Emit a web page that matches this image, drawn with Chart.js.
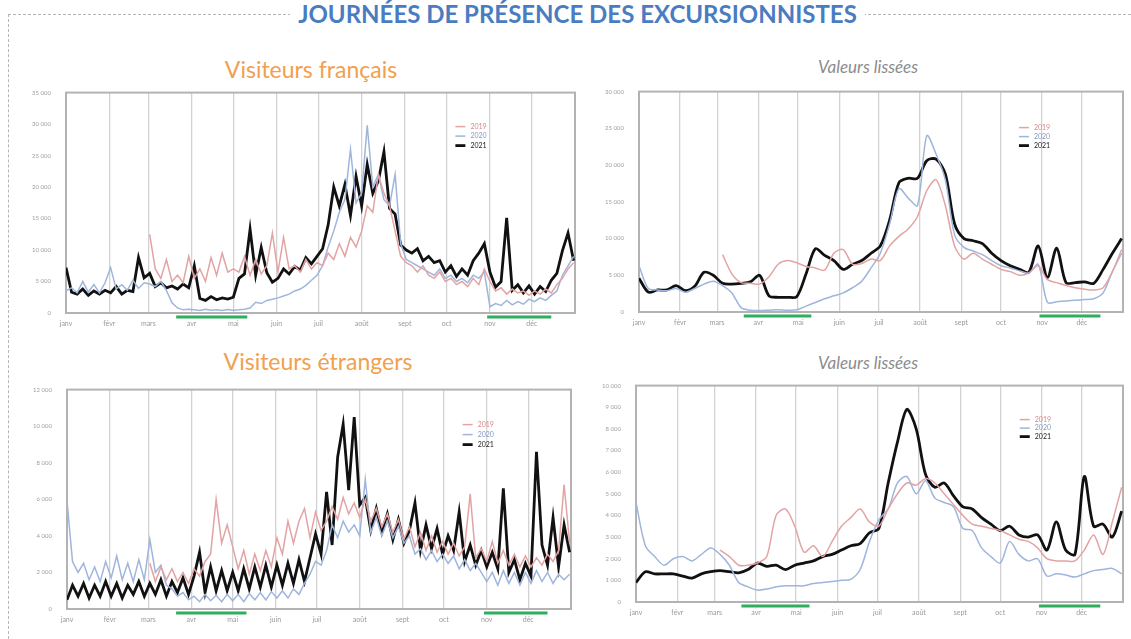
<!DOCTYPE html>
<html lang="fr">
<head>
<meta charset="utf-8">
<title>Journées de présence des excursionnistes</title>
<script src="https://cdn.jsdelivr.net/npm/chart.js@4.4.1/dist/chart.umd.min.js"></script>
<style>
  body { margin: 0; background: #fff; font-family: Lato, 'Open Sans', sans-serif; }
  #page { position: relative; width: 1131px; height: 639px; overflow: hidden; background: #fff; }
  .dash-top { position: absolute; left: 8px; top: 14px; width: 1123px; border-top: 1px dashed #b5b5b5; }
  .dash-left { position: absolute; left: 8px; top: 14px; height: 630px; border-left: 1px dashed #b5b5b5; }
  #mainTitle { position: absolute; left: 12px; top: 0px; width: 1131px; text-align: center; line-height: 28px; }
  #mainTitle span { background: #fff; padding: 0 8px; color: #4a7cc2; font-weight: 700; font-size: 24px; }
  .ptitle { position: absolute; width: 400px; text-align: center; }
  .orange { color: #f0a04e; font-size: 23px; }
  .grey { color: #8c8c8c; font-size: 17px; font-style: italic; }
  canvas { position: absolute; }
</style>
</head>
<body>
<div id="page">
  <div class="dash-top"></div>
  <div class="dash-left"></div>
  <div id="mainTitle"><span>JOURNÉES DE PRÉSENCE DES EXCURSIONNISTES</span></div>

  <div class="ptitle orange" style="left:111px; top:55px;">Visiteurs français</div>
  <div class="ptitle grey" style="left:668px; top:56px;">Valeurs lissées</div>
  <div class="ptitle orange" style="left:118px; top:347px;">Visiteurs étrangers</div>
  <div class="ptitle grey" style="left:668px; top:352px;">Valeurs lissées</div>

  <canvas id="frRaw" width="563" height="255" style="left:16px; top:82px;"></canvas>
  <canvas id="frSmooth" width="538" height="255" style="left:589px; top:81px;"></canvas>
  <canvas id="etRaw" width="558" height="254" style="left:17px; top:379px;"></canvas>
  <canvas id="etSmooth" width="541" height="251" style="left:586px; top:375px;"></canvas>
</div>

<script>
// x axis: day of year
const monthStarts = [0, 31, 59, 90, 120, 151, 181, 212, 243, 273, 304, 334];
const monthNames = ['janv', 'févr', 'mars', 'avr', 'mai', 'juin', 'juil', 'août', 'sept', 'oct', 'nov', 'déc'];

// confinements (green bars under the axis)
const lockStart = [79, 302];
const lockEnd = [130, 348];

// sampled days
const rawDays = [0,4,8,12,16,20,24,28,32,36,40,44,48,52,56,60,64,68,72,76,80,84,88,92,96,100,104,108,112,116,
  120,124,128,132,136,140,144,148,152,156,160,164,168,172,176,180,184,188,192,196,200,204,208,212,216,220,224,228,
  232,236,240,244,248,252,256,260,264,268,272,276,280,284,288,292,296,300,304,308,312,316,320,324,328,332,336,340,
  344,348,352,356,360,364];
const smoothDays = [0,7,14,21,28,35,42,49,56,63,70,77,84,91,98,105,112,119,126,133,140,147,154,161,168,175,182,
  189,196,203,210,217,224,231,238,245,252,259,266,273,280,287,294,301,308,315,322,329,336,343,350,357,364];

// Visiteurs français - journalier
const frRaw2019 = [null,null,null,null,null,null,null,null, null,null,null,null,null,null,null,
  12500,7000,5500,8500,5000,6000,4800,9000,
  5500,7000,5000,8800,6000,9500,6500,
  7000,6500,9000,6000,8500,6200,7500,12700,
  6500,12000,7000,7500,6500,8500,7000,8000,
  7500,9500,8500,11000,9000,12000,10500,
  13000,17000,16000,22000,19000,17000,13000,9000,
  8000,7500,6500,7500,6000,5500,6500,5000,
  5500,4500,5000,4200,5500,4500,7000,
  5000,3500,4000,3000,3800,3200,3500,2800,
  3500,3000,3800,3200,4500,5500,7000,8000];
const frRaw2020 = [3500,4000,3200,5000,3300,4500,3200,4800,
  7200,3800,4500,3600,5200,3900,4800,
  4600,4200,5000,3600,1600,800,500,600,
  500,400,600,450,500,400,550,
  450,500,600,800,1700,1500,2000,2200,
  2400,2700,3000,3500,3800,4400,5200,6000,
  7500,10500,13000,16000,18000,26000,17500,
  19000,29800,20000,22000,18000,17000,22000,11000,
  8500,8000,7500,7000,6500,6000,7000,5500,
  6000,5000,5500,4800,6000,5500,6500,
  1000,1500,1200,2000,1300,1800,1400,2200,
  1800,2400,2000,2800,3500,6000,7500,9000];
const frRaw2021 = [7200,3300,3000,3800,2800,3500,3000,3600,
  3200,4200,3000,3600,3400,8800,5600,
  6300,4200,4800,4000,4300,3800,4600,4000,
  7500,2300,2000,2600,2100,2400,2200,
  2500,5500,6200,13300,6000,10400,6400,4900,
  5500,7000,6200,7400,6800,8800,7800,9000,
  10200,14000,20000,17000,20400,15500,21700,
  17000,23600,19000,21000,25600,16600,15700,10800,
  10000,9500,10200,8300,9000,8000,8300,6500,
  7500,5800,7000,6000,8300,9500,11000,
  6500,4100,5000,15100,3600,4500,3200,4300,
  3000,4200,3400,5200,6300,9900,12700,8300];

// Visiteurs français - valeurs lissées
const frSmooth2019 = [null,null,null,null,null,null,null,null,null,
  7800,5200,4000,3900,3800,4800,6500,7000,6700,6200,
  6000,5700,8000,8500,6500,6600,7200,7000,9000,10300,
  11300,13000,16500,18000,14500,9000,7200,8000,7200,6500,
  5800,5500,5000,5300,6300,4400,4000,3600,3300,3100,
  3000,3300,5500,8500];
const frSmooth2020 = [6300,3200,3000,2900,3200,2700,3200,3800,4200,3600,
  2600,600,250,200,250,300,250,300,800,1300,
  1800,2200,2600,3300,4200,6000,8000,12000,16800,15500,
  14500,24000,21500,18000,10500,8800,8300,7800,7000,6300,
  6000,5600,5300,6500,1300,1400,1500,1600,1700,1800,
  2600,5500,8000];
const frSmooth2021 = [4600,2700,3000,3000,3600,2900,3500,5400,5000,3900,
  3800,3900,4100,5000,2200,2000,2000,2100,5200,8600,
  7700,7000,5800,6500,7000,8000,9000,12500,17600,18200,
  18200,20600,20800,18800,12000,10000,9700,9300,8000,7000,
  6300,5800,5400,9000,4700,8700,4000,4000,4100,3900,
  5800,8000,10000];

// Visiteurs étrangers - journalier
const etRaw2019 = [null,null,null,null,null,null,null,null, null,null,null,null,null,null,null,
  2500,1500,2300,1600,2200,1500,2000,1400,
  2200,1800,2600,3000,6000,3600,4600,
  3400,2200,3200,1900,3000,2100,3200,2300,
  3900,3000,4800,3600,4800,5500,3900,5300,
  4300,4800,5600,4900,6100,5200,5800,
  5000,6000,4800,5500,4500,5200,4200,4900,
  3800,4500,3400,4200,3200,4000,3100,3700,
  3000,3600,2900,3400,6300,2800,3300,
  2600,3700,2500,3200,2400,3000,2300,2900,
  2300,2800,2400,3000,2600,3200,6800,3600];
const etRaw2020 = [5900,2600,2000,2500,1600,2300,1500,2600,
  1700,2900,1600,2500,1500,2700,1600,
  3800,2000,2400,1300,1100,700,900,500,
  700,400,800,450,750,400,800,
  450,800,400,850,500,900,500,950,
  600,1000,600,1100,800,1400,1900,2600,
  2400,3200,4600,3900,4800,4200,4600,
  4000,7100,4200,5000,4000,4800,3900,4500,
  3600,4000,3000,3300,2700,3200,2600,3000,
  2500,2900,2200,2700,2100,2500,2000,
  1500,2000,1300,2100,1400,2000,1300,2000,
  1400,2100,1500,2000,1400,1900,1600,1900];
const etRaw2021 = [500,1300,700,1400,600,1300,700,1500,
  700,1400,600,1300,800,1500,700,
  1400,800,1600,700,1500,900,1700,800,
  1800,3100,900,2300,1000,2100,1000,
  2000,1000,2200,1100,2300,1200,2400,1200,
  2400,1300,2500,1400,2700,1500,2800,4100,
  3000,6400,3500,8300,10100,6500,10500,
  5700,6100,4300,5500,4200,5200,3800,4900,
  3600,4300,5800,3200,4600,3300,4400,3000,
  4000,3200,5300,2600,3500,2400,3200,
  2300,3100,2200,6600,2000,2700,1600,2500,
  1800,8600,3500,2400,5000,2300,4600,3100];

// Visiteurs étrangers - valeurs lissées
const etSmooth2019 = [null,null,null,null,null,null,null,null,null,
  2400,2100,1700,1700,1800,2100,4000,4300,3500,2300,
  2600,2100,2800,3500,3900,4300,3700,3500,4300,5000,
  5500,5400,5700,5500,5000,4500,4000,3600,3500,3400,
  3300,3100,2900,2800,2500,2000,1900,1900,1900,2400,
  3100,2200,3700,5300];
const etSmooth2020 = [4600,2600,2100,1700,2000,2100,1900,2200,2500,2200,
  1700,900,700,550,600,700,750,750,750,850,
  900,950,1000,1050,1500,2800,3800,4300,5500,5800,
  5000,5600,4800,4600,4400,3400,3300,2500,2100,1800,
  2800,2200,1900,2000,1200,1300,1250,1150,1300,1450,
  1500,1550,1300];
const etSmooth2021 = [900,1400,1300,1300,1300,1200,1100,1300,1400,1450,
  1400,1350,1500,1800,1650,1700,1500,1700,1800,1900,
  2100,2200,2400,2600,2700,3200,3400,5500,7400,8900,
  8000,5900,5300,5500,4900,4400,4300,3900,3600,3300,
  3500,3100,3000,3100,2400,3700,2400,2200,5800,3500,
  3600,3000,4200];

const yearLabels = ['2019', '2020', '2021'];
const lineColors = ['#e3a3a3', '#9fb5dc', '#111111'];
const labelColors = ['#d98888', '#8799c0', '#222222'];

function fmt(v) {
  return String(v).replace(/\B(?=(\d{3})+(?!\d))/g, ' ');
}

// frame, green bars and small legend inside the plot
const panelDeco = {
  id: 'panelDeco',
  beforeDatasetsDraw(chart) {
    const { ctx, chartArea: a } = chart;
    ctx.save();
    ctx.strokeStyle = '#b3b3b3';
    ctx.lineWidth = 2;
    ctx.strokeRect(a.left, a.top, a.right - a.left, a.bottom - a.top);
    ctx.restore();
  },
  afterDraw(chart, args, opts) {
    const { ctx, chartArea: a, scales } = chart;
    ctx.save();
    ctx.strokeStyle = '#2fae5f';
    ctx.lineWidth = 3;
    lockStart.forEach((s, i) => {
      ctx.beginPath();
      ctx.moveTo(scales.x.getPixelForValue(s), a.bottom + 4);
      ctx.lineTo(scales.x.getPixelForValue(lockEnd[i]), a.bottom + 4);
      ctx.stroke();
    });

    const lx = a.left + (a.right - a.left) * opts.legendX;
    let ly = a.top + opts.legendY;
    ctx.font = '7px Lato';
    ctx.textBaseline = 'middle';
    chart.data.datasets.forEach((ds, i) => {
      ctx.strokeStyle = ds.borderColor;
      ctx.lineWidth = ds.borderWidth;
      ctx.beginPath();
      ctx.moveTo(lx, ly);
      ctx.lineTo(lx + 10, ly);
      ctx.stroke();
      ctx.fillStyle = labelColors[i];
      ctx.fillText(ds.label, lx + 15, ly);
      ly += opts.legendStep;
    });
    ctx.restore();
  }
};

function makePanel(id, days, series, yMax, yStep, smooth, legendX, legendY, legendStep) {
  const ctx = document.getElementById(id).getContext('2d');
  new Chart(ctx, {
    type: 'line',
    data: {
      datasets: series.map((vals, i) => ({
        label: yearLabels[i],
        data: days.map((d, k) => ({ x: d, y: vals[k] })),
        borderColor: lineColors[i],
        borderWidth: i === 2 ? 2.8 : 1.5,
        pointRadius: 0,
        tension: smooth ? 0.3 : 0,
        spanGaps: false
      }))
    },
    options: {
      responsive: false,
      animation: false,
      layout: { padding: { top: 8, right: 4, left: 0, bottom: 0 } },
      plugins: {
        legend: { display: false },
        tooltip: { enabled: false },
        panelDeco: { legendX: legendX, legendY: legendY, legendStep: legendStep }
      },
      scales: {
        x: {
          type: 'linear',
          min: 0,
          max: 365,
          afterBuildTicks: s => { s.ticks = monthStarts.map(v => ({ value: v })); },
          afterFit: s => { s.height = 24; },
          ticks: {
            autoSkip: false,
            maxRotation: 0,
            padding: 7,
            color: '#9a9a9a',
            font: { family: 'Lato', size: 7 },
            callback: v => monthNames[monthStarts.indexOf(v)]
          },
          grid: { color: '#d2d2d2', lineWidth: 1.3, drawTicks: false },
          border: { display: false }
        },
        y: {
          min: 0,
          max: yMax,
          afterFit: s => { s.width = 50; },
          ticks: {
            stepSize: yStep,
            padding: 7,
            color: '#a0a0a0',
            font: { family: 'Lato', size: 6 },
            callback: v => fmt(v)
          },
          grid: { display: false },
          border: { display: false }
        }
      }
    },
    plugins: [panelDeco]
  });
}

makePanel('frRaw', rawDays, [frRaw2019, frRaw2020, frRaw2021], 35000, 5000, false, 0.765, 34, 9.5);
makePanel('frSmooth', smoothDays, [frSmooth2019, frSmooth2020, frSmooth2021], 30000, 5000, true, 0.785, 36, 9);
makePanel('etRaw', rawDays, [etRaw2019, etRaw2020, etRaw2021], 12000, 2000, false, 0.785, 35, 10);
makePanel('etSmooth', smoothDays, [etSmooth2019, etSmooth2020, etSmooth2021], 10000, 1000, true, 0.788, 34, 8.5);
</script>
</body>
</html>
